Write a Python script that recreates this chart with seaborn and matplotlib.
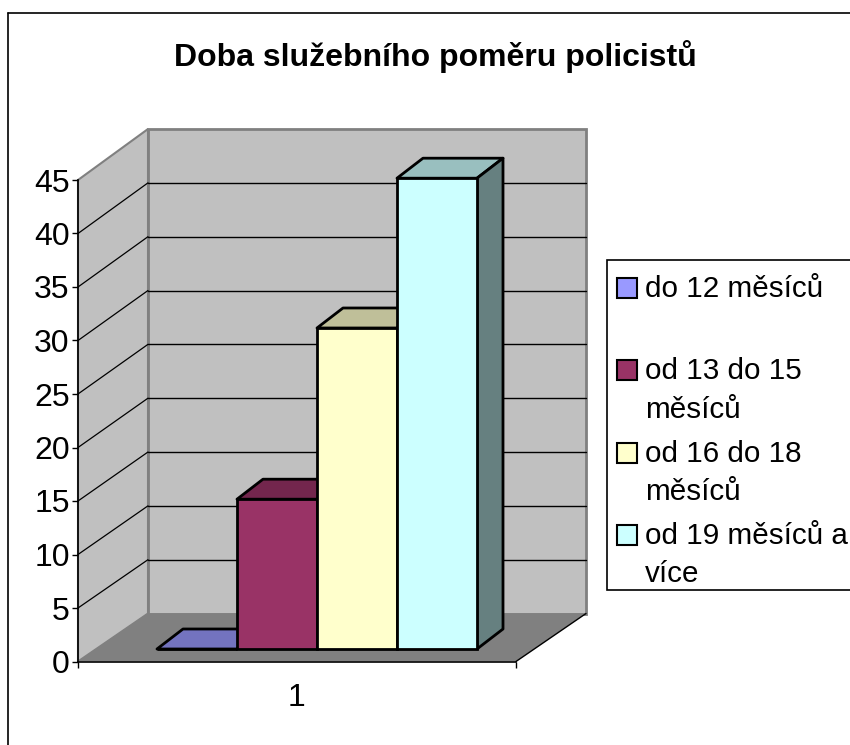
import matplotlib
matplotlib.use("Agg")
import matplotlib.pyplot as plt
from matplotlib.lines import Line2D
from matplotlib.patches import Patch, Polygon, Rectangle
from matplotlib.legend_handler import HandlerPatch
from matplotlib.transforms import Affine2D
from matplotlib.colors import to_rgb
import pandas as pd
import seaborn as sns

TITLE = "Doba služebního poměru policistů"
CATEGORY = ["1"]
SERIES = ["do 12 měsíců", "od 13 do 15\nměsíců", "od 16 do 18\nměsíců", "od 19 měsíců a\nvíce"]
LEGEND_LABELS = ["do 12 měsíců\n ", "od 13 do 15\nměsíců", "od 16 do 18\nměsíců", "od 19 měsíců a\nvíce"]
VALUES = [0, 14, 30, 44]
COLORS = ["#9999FF", "#993366", "#FFFFCC", "#CCFFFF"]
YTICKS = [0, 5, 10, 15, 20, 25, 30, 35, 40, 45]

W, H = 850, 745
FONT = "Liberation Sans"
FS = 23
FS_LEG = 21.3

sns.set_theme(style="white")
plt.rcParams["font.family"] = [FONT, "DejaVu Sans"]

fig = plt.figure(figsize=(W / 100, H / 100), dpi=100, facecolor="white")

# front plane of the 3D box, in pixels from the top-left corner
FX0, FX1, FY0, FY1 = 78, 516, 661.5, 180
DEPTH_X, DEPTH_Y = 70, 48
ax = fig.add_axes([FX0 / W, 1 - FY0 / H, (FX1 - FX0) / W, (FY0 - FY1) / H])

df = pd.DataFrame({
    "cat": CATEGORY * len(SERIES),
    "series": SERIES,
    "value": VALUES,
})
sns.barplot(data=df, x="cat", y="value", hue="series", hue_order=SERIES,
            palette=COLORS, width=0.8, gap=0, dodge=True, ax=ax, legend=False,
            errorbar=None, saturation=1, edgecolor="black", linewidth=2)
half = (FX1 - FX0) / 2 / 400  # 400 px per category unit: each bar is 80 px wide
ax.set_xlim(-half, half)
ax.set_ylim(0, 45)
ax.set_yticks(YTICKS)
ax.set_xticks([-half, half])
ax.set_xticklabels(["", ""])
ax.set_xlabel("")
ax.set_ylabel("")
ax.patch.set_alpha(0)
for s in ["top", "right"]:
    ax.spines[s].set_visible(False)
for s in ["left", "bottom"]:
    ax.spines[s].set_color("black")
    ax.spines[s].set_linewidth(1.2)
    ax.spines[s].set_zorder(6)
ax.tick_params(axis="y", which="major", left=True, length=4.5, width=1, color="black",
               labelsize=FS, labelcolor="black", pad=1.5)
ax.tick_params(axis="x", which="major", bottom=True, length=4.5, width=1, color="black")
ax.text(0.5, -36 / (FY0 - FY1), CATEGORY[0], transform=ax.transAxes, fontsize=FS,
        ha="center", va="center", color="black")
ax.set_axisbelow(False)

def shifted(dx, dy):
    """Data coordinates moved by pixels (dy positive = upward on screen)."""
    return ax.transData + Affine2D().translate(dx, dy)

def val_px(v):
    return FY0 - (v - YTICKS[0]) / (YTICKS[-1] - YTICKS[0]) * (FY0 - FY1)

# walls, floor and grid share the front plane's value scale
deco = fig.add_axes([0, 0, 1, 1], zorder=-1)
deco.set_xlim(0, W)
deco.set_ylim(H, 0)
deco.axis("off")
bx0, bx1 = FX0 + DEPTH_X, FX1 + DEPTH_X
by0, by1 = FY0 - DEPTH_Y, val_px(YTICKS[-1]) - DEPTH_Y - 3
deco.add_patch(Polygon([(bx0, by0), (bx0, by1), (bx1, by1), (bx1, by0)], closed=True,
                       fc="#C0C0C0", ec="#808080", lw=2))
deco.add_patch(Polygon([(FX0, FY0), (FX0, FY1), (bx0, by1), (bx0, by0)], closed=True,
                       fc="#C0C0C0", ec="#808080", lw=1.5))
deco.add_patch(Polygon([(FX0, FY0), (bx0, by0), (bx1, by0), (FX1, FY0)], closed=True,
                       fc="#808080", ec="none"))
deco.add_line(Line2D([FX1, bx1], [FY0, by0], color="black", lw=1))
for v in YTICKS[1:-1]:
    y = val_px(v)
    yb = by0 - (by0 - by1) * (v - YTICKS[0]) / (YTICKS[-1] - YTICKS[0])
    deco.add_line(Line2D([FX0, bx0], [y, yb], color="black", lw=0.9))
    deco.add_line(Line2D([bx0, bx1], [yb, yb], color="black", lw=1))

# outer chart frame: only the left and top sides fall inside the image
deco.add_line(Line2D([8.5, 8.5], [H, 12.5], color="black", lw=1.2))
deco.add_line(Line2D([8.5, W], [12.5, 12.5], color="black", lw=1.2))
# legend box
deco.add_patch(Rectangle((607, 260), 260, 330, fc="white", ec="black", lw=1.2))

# bars: seaborn's front faces, moved to mid-depth, then 3D faces from their geometry
BAR_SHIFT = (20, 12.5)
BAR_DX, BAR_DY = 26, 20
bars = [p for c in ax.containers for p in c]
to_bar = shifted(*BAR_SHIFT)
for i, (bar, col) in enumerate(zip(bars, COLORS)):
    x0, w, top = bar.get_x(), bar.get_width(), bar.get_height()
    x1 = x0 + w
    rgb = to_rgb(col)
    base_z = 3 + i
    top_col = tuple(c * 0.75 for c in rgb)
    side_col = tuple(c * 0.5 for c in rgb)
    dx_data = BAR_DX / 400
    dy_data = BAR_DY * 45 / (FY0 - FY1)
    ax.add_patch(Polygon([(x0, top), (x0 + dx_data, top + dy_data),
                          (x1 + dx_data, top + dy_data), (x1, top)], closed=True,
                         transform=to_bar, fc=top_col, ec="black", lw=2, joinstyle="round",
                         zorder=base_z, clip_on=False))
    ax.add_patch(Polygon([(x1, 0), (x1, top), (x1 + dx_data, top + dy_data),
                          (x1 + dx_data, dy_data)], closed=True,
                         transform=to_bar, fc=side_col, ec="black", lw=2, joinstyle="round",
                         zorder=base_z, clip_on=False))
    bar.set_transform(to_bar)
    bar.set_zorder(base_z + 0.5)
    bar.set_clip_on(False)

fig.text(435 / W, 1 - 57 / H, TITLE, fontsize=FS, fontweight="bold", ha="center",
         va="center", color="black")

# legend with swatches aligned to the first line of each label
SWATCH_RAISE = 17.5
def swatch(legend, orig_handle, xdescent, ydescent, width, height, fontsize):
    return Rectangle((-xdescent, -ydescent + SWATCH_RAISE), 14.4, 14.4)

handles = [Patch(facecolor=c, edgecolor="black", linewidth=1.5) for c in COLORS]
leg = fig.legend(handles, LEGEND_LABELS, loc="upper left",
                 bbox_to_anchor=(617 / W, 1 - 275 / H), frameon=False,
                 fontsize=FS_LEG,
                 handler_map={Patch: HandlerPatch(patch_func=swatch)},
                 handlelength=0.68, handleheight=1.0, handletextpad=0.26,
                 borderpad=0, borderaxespad=0, labelspacing=0.54)
for t in leg.get_texts():
    t.set_linespacing(1.47)
    t.set_color("black")

fig.savefig("out.png", dpi=100)
